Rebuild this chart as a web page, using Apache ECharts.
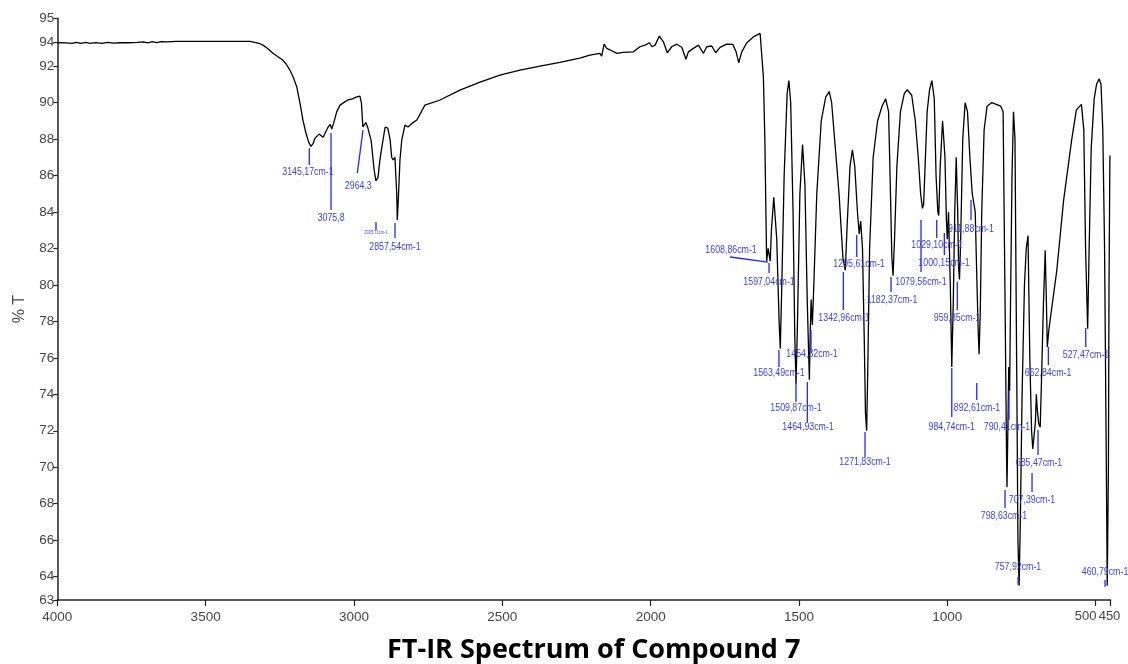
<!DOCTYPE html>
<html><head><meta charset="utf-8">
<script src="https://cdn.jsdelivr.net/npm/echarts@6/dist/echarts.min.js"></script>
<style>html,body{margin:0;padding:0;background:#fff}#c{width:1128px;height:664px}</style>
</head><body><div id="c"></div>
<script>
// ---- Spectrum data (wavenumber cm-1, %T) ----
const wavenumbers = [
4000,3970,3950,3935,3920,3905,3890,3870,3850,3830,3810,3790,3760,3730,3710,3695,3680,3665,3650,3630,3600,3500,3400,3350,3320,3307,3290,3273,3255,3240,3228,3216,3205,3193,3182,3172,3162,3152,3145,3138,3131,3118,3104,3095,3087,3080,3075,3068,3058,3047,3030,3020,3005,2993,2980,2975,2970,2960,2953,2942,2932,2926,2923,2919,2913,2906,2895,2886,2878,2873,2868,2862,2856,2854,2851,2845,2839,2828,2818,2801,2788,2761,2710,2643,2575,2508,2440,2373,2306,2239,2205,2171,2165,2157,2148,2131,2114,2092,2058,2036,2019,2004,1996,1985,1971,1957,1944,1929,1912,1895,1881,1873,1856,1839,1822,1811,1794,1781,1766,1744,1723,1712,1703,1693,1676,1654,1631,1626,1620,1615,
1612,1609,1604,1600,1597,1593,1585,1575,1567,1563,1558,1550,1540,1534,1528,1520,1514,1510,1505,1497,1488,1480,1472,1467,1465,1462,1459,1455,1450,1440,1425,1410,1398,1390,1380,1365,1352,1344,1337,1328,1320,1312,1303,1297,1292,1286,1280,1276,1272,1268,1262,1250,1235,1220,1208,1198,1193,1187,1183,1178,1170,1158,1145,1135,1120,1108,1098,1090,1084,1080,1075,1068,1060,1052,1044,1038,1032,1029,1024,1016,1008,1003,1000,996,990,985,980,975,970,965,962,959,955,948,940,932,924,916,912,906,900,896,893,889,884,876,866,850,835,820,812,806,800,799,796,793,790,787,782,777,772,766,762,758,754,748,740,734,728,722,716,712,707,703,700,697,692,687,683,676,670,666,663,658,650,631,608,581,565,548,540,534,527,522,515,505,497,488,482,476,470,465,461,457,455,452
];
const transmittance = [
93.28,93.27,93.25,93.3,93.24,93.3,93.24,93.29,93.25,93.3,93.26,93.28,93.28,93.3,93.33,93.27,93.34,93.28,93.34,93.33,93.35,93.36,93.36,93.35,93.25,93.15,92.95,92.7,92.5,92.33,92.1,91.78,91.4,90.87,89.97,89.04,88.33,87.8,87.6,87.75,88.05,88.27,88.1,88.4,88.66,88.8,88.55,88.9,89.5,89.86,90.05,90.14,90.2,90.3,90.35,90.0,88.66,88.9,88.6,87.9,86.3,85.7,85.6,85.9,86.8,87.56,88.66,88.6,87.94,87.0,86.85,87.0,85.04,83.56,84.5,86.85,87.94,88.77,88.66,88.9,89.04,89.86,90.14,90.68,91.12,91.5,91.78,92.0,92.2,92.44,92.6,92.7,92.55,93.2,92.97,92.84,92.7,92.75,92.78,93.06,93.15,93.28,93.06,93.15,93.64,93.33,92.73,93.06,93.2,93.03,92.37,92.78,92.97,93.15,92.7,93.06,93.1,92.73,93.03,93.2,93.19,92.78,92.18,92.78,93.28,93.6,93.79,93.7,91.41,87.94,
84.5,81.3,82.0,81.6,81.3,83.0,84.8,82.5,78.0,76.5,80.0,86.0,90.5,91.2,90.0,84.0,77.0,74.6,78.0,85.0,87.7,85.5,79.0,76.0,74.8,77.5,79.2,77.8,80.0,85.0,89.0,90.3,90.6,90.0,88.0,85.0,81.5,80.8,83.5,86.5,87.4,86.5,84.0,82.8,83.5,82.0,77.0,73.0,72.0,75.5,82.0,87.0,89.0,89.8,90.2,89.5,86.0,81.5,80.5,82.5,86.5,89.5,90.5,90.7,90.4,89.0,87.0,85.0,84.2,84.4,86.5,89.5,90.7,91.2,90.2,86.0,84.0,83.8,86.5,89.0,87.0,83.5,82.5,84.0,80.0,75.5,79.0,84.0,87.0,84.0,81.0,80.3,82.5,88.0,90.0,89.5,87.0,85.0,84.6,84.0,80.0,77.5,76.2,78.5,84.0,88.5,89.8,90.0,89.9,89.8,89.5,80.0,70.0,68.9,72.0,75.5,74.2,79.0,86.0,89.5,88.0,75.0,66.0,63.5,67.0,74.0,80.0,82.0,82.7,76.0,72.0,71.0,70.9,72.5,74.0,73.2,72.4,72.2,74.5,79.0,81.9,79.0,76.6,77.5,78.5,80.8,84.65,87.94,89.6,89.9,88.5,82.0,77.6,82.0,87.5,90.2,91.0,91.3,91.0,88.5,82.0,72.0,63.5,70.0,80.0,87.1
];

// ---- Axis ticks ----
const xTickValues = [4000,3500,3000,2500,2000,1500,1000,500];
const xEndTickValues = [450];
const yTickValues = [62.72,64,66,68,70,72,74,76,78,80,82,84,86,88,90,92,93.28,94.62];
const yTickLabels = ['63','64','66','68','70','72','74','76','78','80','82','84','86','88','90','92','94','95'];

// ---- Peak annotations (leader line from (x1,y1) to (x2,y2), text at (tx,ty)) ----
const annText = ['3145,17cm-1','3075,8','2964,3','2925,71cm-1','2857,54cm-1','1608,86cm-1','1597,04cm-1','1563,49cm-1','1509,87cm-1','1464,93cm-1','1454,32cm-1','1342,96cm-1','1295,61cm-1','1271,83cm-1','1182,37cm-1','1079,56cm-1','1029,10cm-1','1000,15cm-1','911,88cm-1','959,35cm-1','984,74cm-1','892,61cm-1','790,41cm-1','798,63cm-1','757,92cm-1','707,39cm-1','685,47cm-1','662,84cm-1','527,47cm-1','460,79cm-1'];
const annX1 = [3150.6,3077.4,2969.6,2925.8,2861.7,1732.4,1601,1567.5,1510.2,1471.9,1459.5,1350.5,1305.4,1277.4,1189.8,1088.7,1035.8,1010.1,920.1,966.3,985,900.8,792,805.5,761.7,714.5,694.3,659.5,533.5,468.4];
const annY1 = [87.5,88.33,88.49,83.45,83.39,81.53,81.2,76.43,74.78,74.67,77.53,80.71,82.73,71.93,80.43,83.56,83.56,82.84,84.65,80.16,75.44,74.62,74.18,68.75,63.98,69.69,72.04,76.59,77.64,63.82];
const annX2 = [3150.6,3077.4,2988.8,2925.8,2861.7,1604.4,1601,1567.5,1510.2,1471.9,1459.5,1350.5,1305.4,1277.4,1189.8,1088.7,1035.8,1010.1,920.1,966.3,985,900.8,792,805.5,761.7,714.5,694.3,659.5,533.5,468.4];
const annY2 = [86.57,84.11,86.13,83.01,82.57,81.25,80.65,75.5,73.58,72.48,76.27,78.62,81.53,70.56,79.61,80.71,82.57,81.64,83.56,78.62,72.76,73.69,72.59,67.77,63.55,68.64,70.67,75.61,76.59,63.44];
const annTX = [3155,3077,2985.4,2925.8,2861.7,1729,1601,1567.5,1510,1469.5,1456,1348.2,1297.6,1277.4,1186.4,1088.7,1034.7,1011.1,920.1,967.2,985,899.9,798.8,808.9,761.7,714.5,690.9,660.5,532.5,468.4];
const annTY = [86.19,83.67,85.42,82.84,82.08,81.91,80.16,75.17,73.25,72.21,76.21,78.18,81.14,70.29,79.17,80.16,82.19,81.2,83.06,78.18,72.21,73.25,72.21,67.33,64.53,68.21,70.23,75.17,76.16,64.26];
const annSize = annText.map(t => t === '2925,71cm-1' ? 5 : 11);

const sans = "'Liberation Sans',Arial,sans-serif";
const labelColor = '#454545';

const chart = echarts.init(document.getElementById('c'), null, {renderer:'canvas'});
chart.setOption({
  animation:false,
  backgroundColor:'#fff',
  title:{text:'FT-IR Spectrum of Compound 7', left:382, top:632,
    textStyle:{fontFamily:"'Open Sans',sans-serif", fontWeight:'bold', fontSize:27, color:'#000'}},
  grid:{left:57.3, right:17.5, top:18.3, bottom:64},
  xAxis:[
   {type:'value', inverse:true, min:450, max:4000, position:'bottom',
    axisLine:{lineStyle:{color:'#222', width:1.5}},
    axisTick:{customValues:xTickValues, length:6, lineStyle:{color:'#222', width:1.2}},
    axisLabel:{customValues:xTickValues, hideOverlap:false,
      color:labelColor, fontFamily:sans, fontSize:13.5, margin:10,
      formatter:v => v===500 ? '{a|500}' : String(v),
      rich:{a:{fontFamily:sans, fontSize:13, color:labelColor, padding:[0,20,0,0]}}},
    splitLine:{show:false}},
   {type:'value', inverse:true, min:450, max:4000, position:'bottom', gridIndex:0,
    axisLine:{show:false},
    axisTick:{show:true, customValues:xEndTickValues, length:6, lineStyle:{color:'#222', width:1.2}},
    axisLabel:{customValues:xEndTickValues, color:labelColor, fontFamily:sans, fontSize:13.5, margin:10,
      formatter:v => '{b|' + v + '}',
      rich:{b:{fontFamily:sans, fontSize:13, color:labelColor, padding:[0,2,0,0]}}},
    splitLine:{show:false}}
  ],
  yAxis:{type:'value', min:62.72, max:94.62,
    name:'% T', nameLocation:'middle', nameRotate:90, nameGap:30,
    nameTextStyle:{fontFamily:sans, fontSize:16, color:labelColor},
    axisLine:{show:true, lineStyle:{color:'#222', width:1.5}},
    axisTick:{show:true, customValues:yTickValues, length:4, lineStyle:{color:'#222', width:1.2}},
    axisLabel:{customValues:yTickValues, hideOverlap:false, showMinLabel:true, showMaxLabel:true,
      color:labelColor, fontFamily:sans, fontSize:13.5, margin:3,
      formatter:v => { const i = yTickValues.findIndex(t => Math.abs(t - v) < 1e-6); return i >= 0 ? yTickLabels[i] : ''; }},
    splitLine:{show:false}},
  series:[
    {type:'line', xAxisIndex:0, data:wavenumbers.map((w,i)=>[w, transmittance[i]]), showSymbol:false, symbol:'none',
     lineStyle:{color:'#000', width:1.3}, z:3},
    {type:'custom', xAxisIndex:0, clip:false, z:4,
     data:annText.map((t,i)=>[annX1[i], annY1[i]]),
     renderItem:(params, api) => {
       const i = params.dataIndex;
       const p1 = api.coord([annX1[i], annY1[i]]);
       const p2 = api.coord([annX2[i], annY2[i]]);
       const pt = api.coord([annTX[i], annTY[i]]);
       return {type:'group', children:[
         {type:'line', shape:{x1:p1[0], y1:p1[1], x2:p2[0], y2:p2[1]}, style:{stroke:'#2525ff', lineWidth:1.3}},
         {type:'text', x:pt[0], y:pt[1], scaleX:0.8, style:{text:annText[i], fill:'#3b3bff',
           font: annSize[i] + 'px ' + sans, align:'center', verticalAlign:'middle'}}
       ]};
     }}
  ]
});
</script></body></html>
